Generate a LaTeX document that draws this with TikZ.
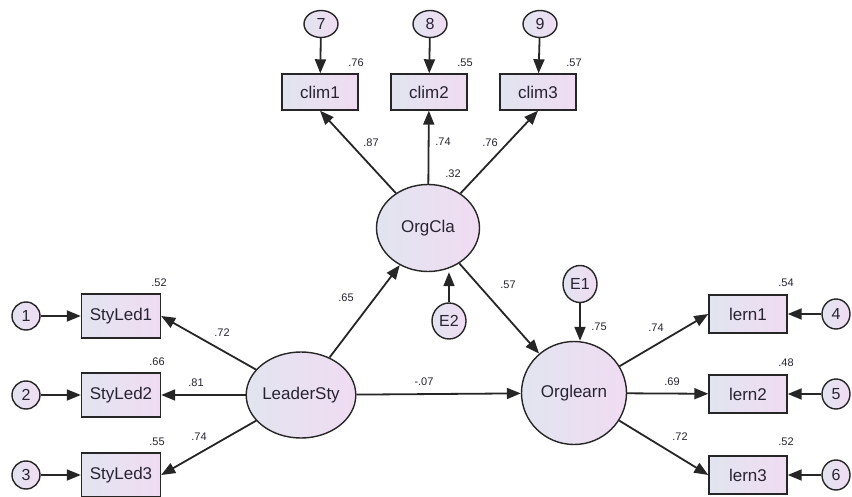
\documentclass[tikz,border=0pt]{standalone}
\usepackage{fontspec}
\setmainfont{Liberation Sans}
\usetikzlibrary{arrows.meta,shapes.geometric}
\definecolor{lavL}{RGB}{226,228,240}
\definecolor{lavR}{RGB}{240,220,242}
\definecolor{txt}{RGB}{40,36,50}
\begin{document}
\begin{tikzpicture}[x=1pt,y=-1pt,
  every node/.style={text=txt},
  obs/.style={draw=black!85,line width=1.4pt,rectangle,left color=lavL,right color=lavR,minimum width=78pt,minimum height=38pt,inner sep=0pt,font=\fontsize{17}{20}\selectfont},
  lat/.style={draw=black!85,line width=1.4pt,ellipse,left color=lavL,right color=lavR,inner sep=0pt,font=\fontsize{17}{20}\selectfont},
  err/.style={draw=black!85,line width=1.4pt,ellipse,left color=lavL,right color=lavR,inner sep=0pt,font=\fontsize{16}{19}\selectfont},
  lbl/.style={font=\fontsize{11}{13}\selectfont,inner sep=0pt},
  arr/.style={line width=1.8pt,black!85,-{Triangle[length=14pt,width=11pt]}}
]
\useasboundingbox (0,0) rectangle (852,497);
\fill[white] (0,0) rectangle (852,497);
% top error terms
\node[err,minimum width=34pt,minimum height=27pt] (e7) at (321,24) {7};
\node[err,minimum width=34pt,minimum height=27pt] (e8) at (430,24) {8};
\node[err,minimum width=34pt,minimum height=27pt] (e9) at (540,24) {9};
\node[obs,minimum width=76pt,minimum height=36pt] (clim1) at (320,92) {clim1};
\node[obs,minimum width=76pt,minimum height=36pt] (clim2) at (429,92) {clim2};
\node[obs,minimum width=76pt,minimum height=36pt] (clim3) at (538,92) {clim3};
% latent
\node[lat,minimum width=103pt,minimum height=87pt] (OrgCla) at (428,228) {OrgCla};
\node[err,minimum width=34pt,minimum height=36pt] (E2) at (449,321) {E2};
\node[lat,minimum width=103pt,minimum height=86pt] (LeaderSty) at (301,395) {LeaderSty};
\node[lat,minimum width=105pt,minimum height=103pt] (Orglearn) at (574,393) {Orglearn};
\node[err,minimum width=34pt,minimum height=37pt] (E1) at (580,284) {E1};
% left indicators
\node[obs,minimum width=79pt,minimum height=44pt] (sl1) at (121,316) {StyLed1};
\node[obs,minimum width=79pt,minimum height=44pt] (sl2) at (121,395) {StyLed2};
\node[obs,minimum width=79pt,minimum height=44pt] (sl3) at (121,475) {StyLed3};
\node[err,minimum width=28pt,minimum height=28pt] (e1) at (26,316) {1};
\node[err,minimum width=28pt,minimum height=28pt] (e2) at (26,395) {2};
\node[err,minimum width=28pt,minimum height=28pt] (e3) at (26,475) {3};
% right indicators
\node[obs,minimum width=78pt,minimum height=38pt] (l1) at (748,314) {lern1};
\node[obs,minimum width=78pt,minimum height=38pt] (l2) at (748,394) {lern2};
\node[obs,minimum width=78pt,minimum height=38pt] (l3) at (748,475) {lern3};
\node[err,minimum width=28pt,minimum height=30pt] (e4) at (836,314) {4};
\node[err,minimum width=28pt,minimum height=30pt] (e5) at (836,394) {5};
\node[err,minimum width=28pt,minimum height=30pt] (e6) at (836,475) {6};
% connectors
\draw[arr] (e7) -- (clim1);
\draw[arr] (e8) -- (clim2);
\draw[arr] (e9) -- (clim3);
\draw[arr] (OrgCla) -- (clim1.south);
\draw[arr] (OrgCla) -- (clim2);
\draw[arr] (OrgCla) -- (clim3.south);
\draw[arr] (E2) -- (E2|-OrgCla.south);
\draw[arr] (E1) -- (E1|-Orglearn.north);
\draw[arr] (LeaderSty) -- (OrgCla);
\draw[arr] (OrgCla) -- (Orglearn);
\draw[arr] (LeaderSty) -- (Orglearn);
\draw[arr] (LeaderSty) -- (sl1.east);
\draw[arr] (LeaderSty) -- (sl2);
\draw[arr] (LeaderSty) -- (sl3.east);
\draw[arr] (e1) -- (sl1);
\draw[arr] (e2) -- (sl2);
\draw[arr] (e3) -- (sl3);
\draw[arr] (Orglearn) -- (l1.west);
\draw[arr] (Orglearn) -- (l2);
\draw[arr] (Orglearn) -- (l3.west);
\draw[arr] (e4) -- (l1);
\draw[arr] (e5) -- (l2);
\draw[arr] (e6) -- (l3);
% labels
\node[lbl] (r1) at (356,63) {.76};
\node[lbl] (r2) at (465,63) {.55};
\node[lbl] (r3) at (574,63) {.57};
\node[lbl] (k1) at (371,143) {.87};
\node[lbl] (k2) at (443,142) {.74};
\node[lbl] (k3) at (490,143) {.76};
\node[lbl] (rOC) at (453,174) {.32};
\node[lbl] (p1) at (346,298) {.65};
\node[lbl] (p2) at (508,285) {.57};
\node[lbl] (p3) at (424,382) {-.07};
\node[lbl] (rOL) at (599,327) {.75};
\node[lbl] (s1) at (159,283) {.52};
\node[lbl] (s2) at (157,362) {.66};
\node[lbl] (s3) at (157,442) {.55};
\node[lbl] (m1) at (222,333) {.72};
\node[lbl] (m2) at (196,383) {.81};
\node[lbl] (m3) at (199,437) {.74};
\node[lbl] (t1) at (786,283) {.54};
\node[lbl] (t2) at (786,363) {.48};
\node[lbl] (t3) at (786,442) {.52};
\node[lbl] (n1) at (656,328) {.74};
\node[lbl] (n2) at (672,382) {.69};
\node[lbl] (n3) at (680,437) {.72};
\end{tikzpicture}
\end{document}
